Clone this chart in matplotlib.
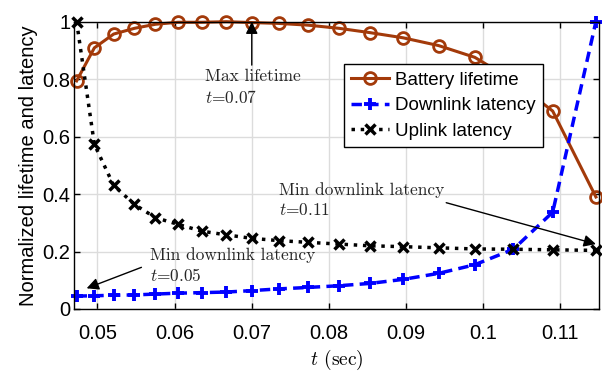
import matplotlib
matplotlib.use("Agg")
import matplotlib.pyplot as plt

# data
t = [0.0473, 0.0496, 0.0521, 0.0548, 0.0575, 0.0604, 0.0635, 0.0667, 0.0700,
     0.0735, 0.0773, 0.0813, 0.0853, 0.0896, 0.0942, 0.0989, 0.1039, 0.1090, 0.1146]
battery = [0.794, 0.909, 0.957, 0.977, 0.991, 0.998, 0.998, 1.0, 0.997,
           0.994, 0.988, 0.977, 0.962, 0.944, 0.917, 0.876, 0.795, 0.689, 0.390]
downlink = [0.045, 0.046, 0.048, 0.049, 0.052, 0.055, 0.057, 0.059, 0.064,
            0.070, 0.075, 0.081, 0.089, 0.103, 0.124, 0.154, 0.208, 0.337, 1.0]
uplink = [1.0, 0.573, 0.430, 0.364, 0.318, 0.295, 0.271, 0.258, 0.246,
          0.238, 0.232, 0.226, 0.220, 0.217, 0.213, 0.209, 0.208, 0.206, 0.204]
xticks = [0.05, 0.06, 0.07, 0.08, 0.09, 0.1, 0.11]
yticks = [0, 0.2, 0.4, 0.6, 0.8, 1]

plt.rcParams['font.family'] = ['Liberation Sans', 'DejaVu Sans']
plt.rcParams['mathtext.fontset'] = 'cm'

fig = plt.figure(figsize=(6.02, 3.75), dpi=100)
ax = fig.add_axes([74.3 / 602, 1 - 309 / 375, (599 - 74.3) / 602, (309 - 21.7) / 375])

brown = '#A33A0A'
ax.plot(t, battery, '-o', color=brown, lw=2.2, ms=8.5, mfc='none', mew=2,
        label='Battery lifetime', clip_on=False, zorder=3)
ax.plot(t, downlink, '--+', color='#0000FF', lw=2.5, ms=9, mew=2.8,
        dashes=(3, 1.8), label='Downlink latency', clip_on=False, zorder=3)
ax.plot(t, uplink, ':x', color='black', lw=2.5, ms=7, mew=2.5,
        label='Uplink latency', clip_on=False, zorder=3)

ax.set_xlim(0.047, 0.115)
ax.set_ylim(0, 1)
ax.set_xticks(xticks)
ax.set_xticklabels(['0.05', '0.06', '0.07', '0.08', '0.09', '0.1', '0.11'])
ax.set_yticks(yticks)
ax.set_yticklabels(['0', '0.2', '0.4', '0.6', '0.8', '1'])
ax.tick_params(direction='in', top=True, right=True, labelsize=14.5, length=4,
               width=1)
ax.tick_params(axis='x', pad=11)
ax.tick_params(axis='y', pad=3)
ax.grid(True, color='#DCDCDC', lw=1)
ax.set_axisbelow(True)
for s in ax.spines.values():
    s.set_linewidth(1)
    s.set_zorder(4)

ax.set_xlabel(r'$t$ (sec)', fontsize=14, family='cmr10', labelpad=3)
ax.set_ylabel('Normalized lifetime and latency', fontsize=14.5, labelpad=3)

leg = ax.legend(loc='upper left', bbox_to_anchor=(0.514, 0.852), fontsize=13.5,
                fancybox=False, edgecolor='black', framealpha=1,
                handlelength=2.0, handletextpad=0.3, borderpad=0.4,
                labelspacing=0.45, borderaxespad=0)
leg.get_frame().set_linewidth(1)
leg.set_zorder(5)

ann = dict(family='cmr10', fontsize=12.5, color='#262626', linespacing=1.3,
           va='top', ha='left')
arrow = dict(arrowstyle='-|>', color='black', lw=1, mutation_scale=18,
             shrinkA=0, shrinkB=0)

ax.annotate('', xy=(0.07, 1.0), xytext=(0.07, 0.849), arrowprops=arrow)
ax.text(0.0639, 0.835, 'Max lifetime\n$t$=0.07', **ann)

ax.annotate('', xy=(0.1146, 0.226), xytext=(0.0952, 0.370), arrowprops=arrow)
ax.text(0.0735, 0.44, 'Min downlink latency\n$t$=0.11', **ann)

ax.annotate('', xy=(0.0486, 0.072), xytext=(0.0557, 0.145), arrowprops=arrow)
ax.text(0.0568, 0.215, 'Min downlink latency\n$t$=0.05', **ann)

fig.savefig('out.png', dpi=100)
